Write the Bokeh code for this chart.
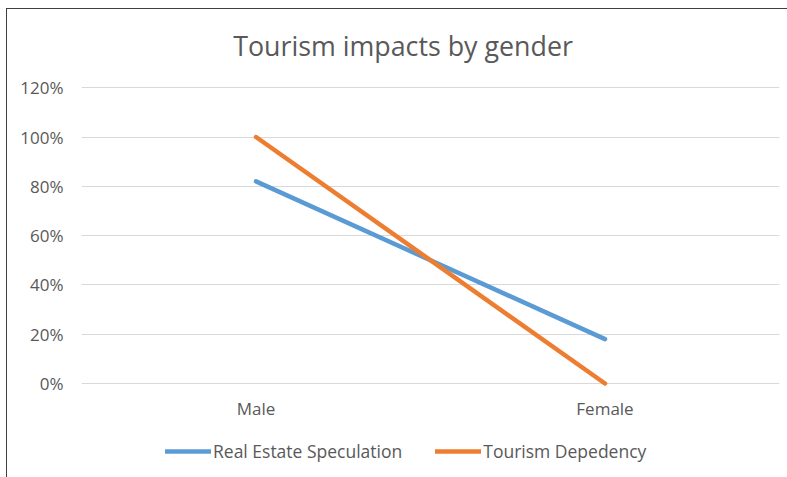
from bokeh.plotting import figure
from bokeh.layouts import column
from bokeh.models import (FactorRange, Range1d, FixedTicker, NumeralTickFormatter,
                          Legend, LegendItem, Label)
from bokeh.embed import file_html
from bokeh.resources import INLINE

categories = ["Male", "Female"]
real_estate = [0.82, 0.18]
tourism_dependency = [1.00, 0.00]
y_ticks = [0, 0.2, 0.4, 0.6, 0.8, 1.0, 1.2]
title_text = "Tourism impacts by gender"
series_names = ["Real Estate Speculation", "Tourism Depedency"]
colors = ["#5B9BD5", "#ED7D31"]

FONT = "Open Sans"
TXT = "#595959"
BORDER = "1px solid #404040"

# frame runs from the top of the chart box down to just under 0%, so the title sits inside it
p = figure(x_range=FactorRange(*categories, range_padding=0),
           y_range=Range1d(-0.0325, 1.5173),
           width=781, height=422, output_backend="svg", toolbar_location=None,
           min_border_left=74, min_border_right=9, min_border_top=0, min_border_bottom=40,
           margin=(8, 0, 0, 6))
p.styles = {"border-left": BORDER, "border-top": BORDER}
p.outline_line_color = None

r1 = p.line(categories, real_estate, line_color=colors[0], line_width=4.5, line_cap="round")
r2 = p.line(categories, tourism_dependency, line_color=colors[1], line_width=4.5, line_cap="round")

title = Label(x=321.5, y=346, x_units="screen", y_units="screen", text=title_text,
              text_align="center", text_baseline="middle", text_font=FONT,
              text_font_size="26.8px", text_color=TXT)
p.add_layout(title)

p.xgrid.grid_line_color = None
p.ygrid.grid_line_color = "#D9D9D9"
p.ygrid.grid_line_width = 1
p.yaxis.ticker = FixedTicker(ticks=y_ticks)
p.yaxis.formatter = NumeralTickFormatter(format="0%")
for ax in (p.xaxis[0], p.yaxis[0]):
    ax.axis_line_color = None
    ax.major_tick_line_color = None
    ax.minor_tick_line_color = None
    ax.major_tick_out = 0
    ax.major_tick_in = 0
    ax.major_label_text_font = FONT
    ax.major_label_text_font_size = "17px"
    ax.major_label_text_color = TXT
p.yaxis.major_label_standoff = 18
p.xaxis.major_label_standoff = 5

# legend strip below the chart; its lines use the same series data, kept out of view
p2 = figure(x_range=FactorRange(*categories, range_padding=0), y_range=Range1d(10, 11),
            width=781, height=47, output_backend="svg", toolbar_location=None,
            x_axis_location=None, y_axis_location=None,
            min_border=0, margin=(0, 0, 0, 6))
p2.styles = {"border-left": BORDER}
p2.outline_line_color = None
p2.grid.visible = False
l1 = p2.line(categories, real_estate, line_color=colors[0], line_width=4.5, line_cap="round")
l2 = p2.line(categories, tourism_dependency, line_color=colors[1], line_width=4.5, line_cap="round")
legend = Legend(items=[LegendItem(label=series_names[0], renderers=[l1]),
                       LegendItem(label=series_names[1], renderers=[l2])],
                orientation="horizontal", location=(84, 14),
                glyph_width=46, glyph_height=16, label_standoff=2, spacing=33,
                padding=0, margin=0, border_line_alpha=0, background_fill_alpha=0,
                label_text_font=FONT, label_text_font_size="17.5px", label_text_color=TXT)
p2.add_layout(legend, "center")

layout = column(p, p2, spacing=0)
open("out.html", "w").write(file_html(layout, INLINE))
